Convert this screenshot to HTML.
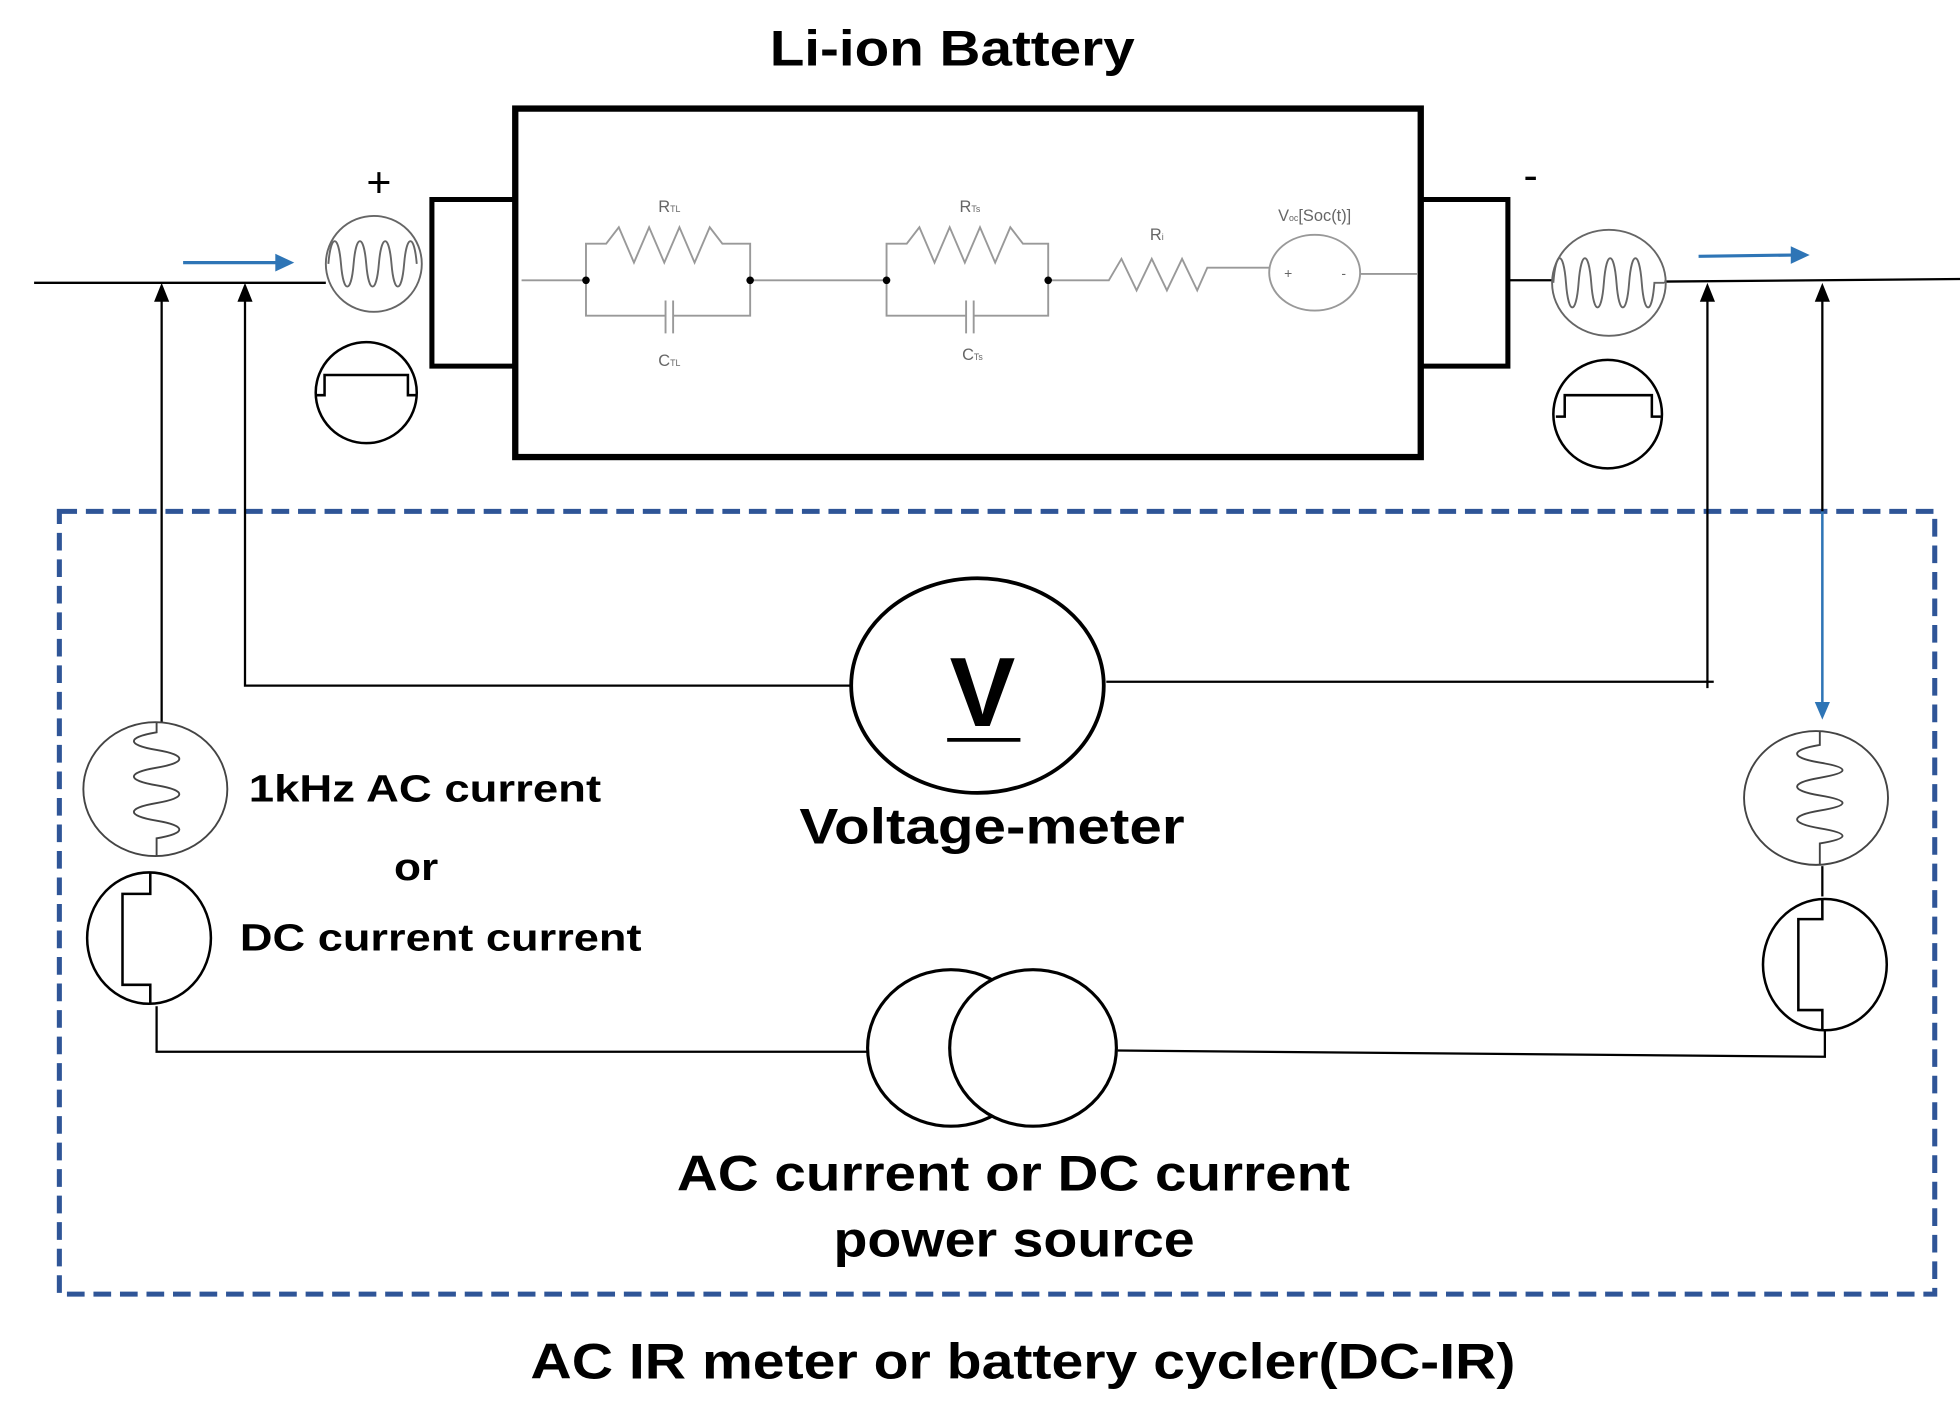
<!DOCTYPE html>
<html><head><meta charset="utf-8"><style>html,body{margin:0;padding:0;background:#fff}svg{display:block}</style></head>
<body>
<svg width="1960" height="1404" viewBox="0 0 1552 1112" preserveAspectRatio="none" xmlns="http://www.w3.org/2000/svg" font-family="Liberation Sans, sans-serif">
<text x="754" y="52" font-size="40" font-weight="bold" text-anchor="middle" textLength="289" lengthAdjust="spacingAndGlyphs">Li-ion Battery</text>
<!-- battery box -->
<rect x="408" y="86" width="717" height="276" fill="none" stroke="#000" stroke-width="5"/>
<path d="M408,158 H342 V290 H408" fill="none" stroke="#000" stroke-width="4"/>
<path d="M1125,158 H1194 V290 H1125" fill="none" stroke="#000" stroke-width="4"/>
<text x="300" y="156" font-size="34" text-anchor="middle">+</text>
<text x="1212" y="150" font-size="34" text-anchor="middle">-</text>
<!-- internal circuit -->
<g stroke="#999" stroke-width="1.5" fill="none">
<path d="M413,222 H464 M464,222 V193 H480 L490,180 L502,208 L514,180 L526,208 L538,180 L550,208 L562,180 L572,193 H594 V222 M464,222 V250 H527 M533,250 H594 V222 M527,238 V264 M533,238 V264"/>
<path d="M594,222 H702 M702,222 V193 H718 L728,180 L740,208 L752,180 L764,208 L776,180 L788,208 L800,180 L810,193 H830 V222 M702,222 V250 H765 M771,250 H830 V222 M765,238 V264 M771,238 V264"/>
<path d="M830,222 H878 L888,205 L900,230 L912,205 L924,230 L936,205 L948,230 L956,212 H1006"/>
<ellipse cx="1041" cy="216" rx="36" ry="30"/>
<path d="M1077,217 H1122"/>
</g>
<g fill="#000"><circle cx="464" cy="222" r="3"/><circle cx="594" cy="222" r="3"/><circle cx="702" cy="222" r="3"/><circle cx="830" cy="222" r="3"/></g>
<g font-size="13" fill="#666" text-anchor="middle">
<text x="530" y="168">R<tspan font-size="7">TL</tspan></text>
<text x="530" y="290">C<tspan font-size="7">TL</tspan></text>
<text x="768" y="168">R<tspan font-size="7">Ts</tspan></text>
<text x="770" y="285">C<tspan font-size="7">Ts</tspan></text>
<text x="916" y="190">R<tspan font-size="7">i</tspan></text>
<text x="1041" y="175">V<tspan font-size="7">oc</tspan>[Soc(t)]</text>
<text x="1020" y="220" font-size="11">+</text><text x="1064" y="220" font-size="11">-</text>
</g>
<!-- wires top -->
<g stroke="#000" stroke-width="1.8" fill="none">
<line x1="27" y1="224" x2="258" y2="224"/>
<line x1="1194" y1="222" x2="1230" y2="222"/>
<line x1="1318" y1="223" x2="1552" y2="221"/>
</g>
<!-- sine circles top -->
<g stroke="#666" stroke-width="1.5" fill="none">
<ellipse cx="296" cy="209" rx="38" ry="38"/>
<path d="M260,209 C262,185 268,185 270,209 S278,233 280,209 S288,185 290,209 S298,233 300,209 S308,185 310,209 S318,233 320,209 S328,185 330,209"/>
<ellipse cx="1274" cy="224" rx="45" ry="42"/>
<path d="M1230,224 C1232,198 1238,198 1240,224 S1248,250 1250,224 S1258,198 1260,224 S1268,250 1270,224 S1278,198 1280,224 S1288,250 1290,224 S1298,198 1300,224 S1308,250 1310,224 L1318,224"/>
</g>
<g stroke="#000" stroke-width="2" fill="none">
<ellipse cx="290" cy="311" rx="40" ry="40"/>
<path d="M251,313 H257 V297 H323 V313 H330"/>
<ellipse cx="1273" cy="328" rx="43" ry="43"/>
<path d="M1232,330 H1239 V313 H1308 V330 H1315"/>
</g>
<!-- blue arrows -->
<g stroke="#2e75b6" stroke-width="2.5" fill="#2e75b6">
<line x1="145" y1="208" x2="220" y2="208"/><path d="M218,201 L233,208 L218,215 Z" stroke="none"/>
<line x1="1345" y1="203" x2="1420" y2="202"/><path d="M1418,195 L1433,202 L1418,209 Z" stroke="none"/>
</g>
<!-- dashed box -->
<rect x="47" y="405" width="1485" height="620" fill="none" stroke="#2f5597" stroke-width="4" stroke-dasharray="14 7"/>
<!-- connectors -->
<g stroke="#000" stroke-width="1.8" fill="none">
<path d="M128,572 V236"/>
<path d="M674,543 H194 V236"/>
<path d="M876,540 H1357"/>
<path d="M1352,545 V236"/>
<path d="M1443,405 V236"/>
<path d="M124,797 V833 H688"/>
<path d="M885,832 L1445,837 V815"/>
<path d="M1443,686 V710"/>
</g>
<g fill="#000">
<path d="M122,239 L128,224 L134,239 Z"/>
<path d="M188,239 L194,224 L200,239 Z"/>
<path d="M1346,239 L1352,224 L1358,239 Z"/>
<path d="M1437,239 L1443,224 L1449,239 Z"/>
</g>
<line x1="1443" y1="405" x2="1443" y2="558" stroke="#2e75b6" stroke-width="2"/>
<path d="M1437,556 L1443,570 L1449,556 Z" fill="#2e75b6"/>
<!-- V meter -->
<ellipse cx="774" cy="543" rx="100" ry="85" fill="#fff" stroke="#000" stroke-width="3"/>
<text x="778" y="575" font-size="78" font-weight="bold" text-anchor="middle">V</text>
<line x1="750" y1="586" x2="808" y2="586" stroke="#000" stroke-width="3"/>
<!-- bottom sources -->
<g stroke="#444" stroke-width="1.5" fill="none">
<ellipse cx="123" cy="625" rx="57" ry="53"/>
<path d="M124,572 V580 C100,584 100,590 124,594 S148,604 124,608 S100,618 124,622 S148,632 124,636 S100,646 124,650 S148,660 124,664 V678"/>
<ellipse cx="1438" cy="632" rx="57" ry="53"/>
<path d="M1441,579 V590 C1417,594 1417,600 1441,604 S1465,612 1441,616 S1417,626 1441,630 S1465,638 1441,642 S1417,652 1441,656 S1465,664 1441,668 V685"/>
</g>
<g stroke="#000" stroke-width="2" fill="none">
<ellipse cx="118" cy="743" rx="49" ry="52"/>
<path d="M119,691 V708 H97 V780 H119 V795"/>
<ellipse cx="1445" cy="764" rx="49" ry="52"/>
<path d="M1443,712 V728 H1424 V800 H1443 V816"/>
</g>
<!-- power source -->
<ellipse cx="753" cy="830" rx="66" ry="62" fill="#fff" stroke="#000" stroke-width="2.5"/>
<ellipse cx="818" cy="830" rx="66" ry="62" fill="#fff" stroke="#000" stroke-width="2.5"/>
<!-- labels -->
<g font-weight="bold" fill="#000">
<text x="197" y="635" font-size="30" textLength="279" lengthAdjust="spacingAndGlyphs">1kHz AC current</text>
<text x="312" y="697" font-size="30" textLength="35" lengthAdjust="spacingAndGlyphs">or</text>
<text x="190" y="753" font-size="30" textLength="318" lengthAdjust="spacingAndGlyphs">DC current current</text>
<text x="633" y="668" font-size="40" textLength="305" lengthAdjust="spacingAndGlyphs">Voltage-meter</text>
<text x="536" y="943" font-size="40" textLength="533" lengthAdjust="spacingAndGlyphs">AC current or DC current</text>
<text x="660" y="995" font-size="40" textLength="286" lengthAdjust="spacingAndGlyphs">power source</text>
<text x="420" y="1092" font-size="40" textLength="780" lengthAdjust="spacingAndGlyphs">AC IR meter or battery cycler(DC-IR)</text>
</g>
</svg>
</body></html>
